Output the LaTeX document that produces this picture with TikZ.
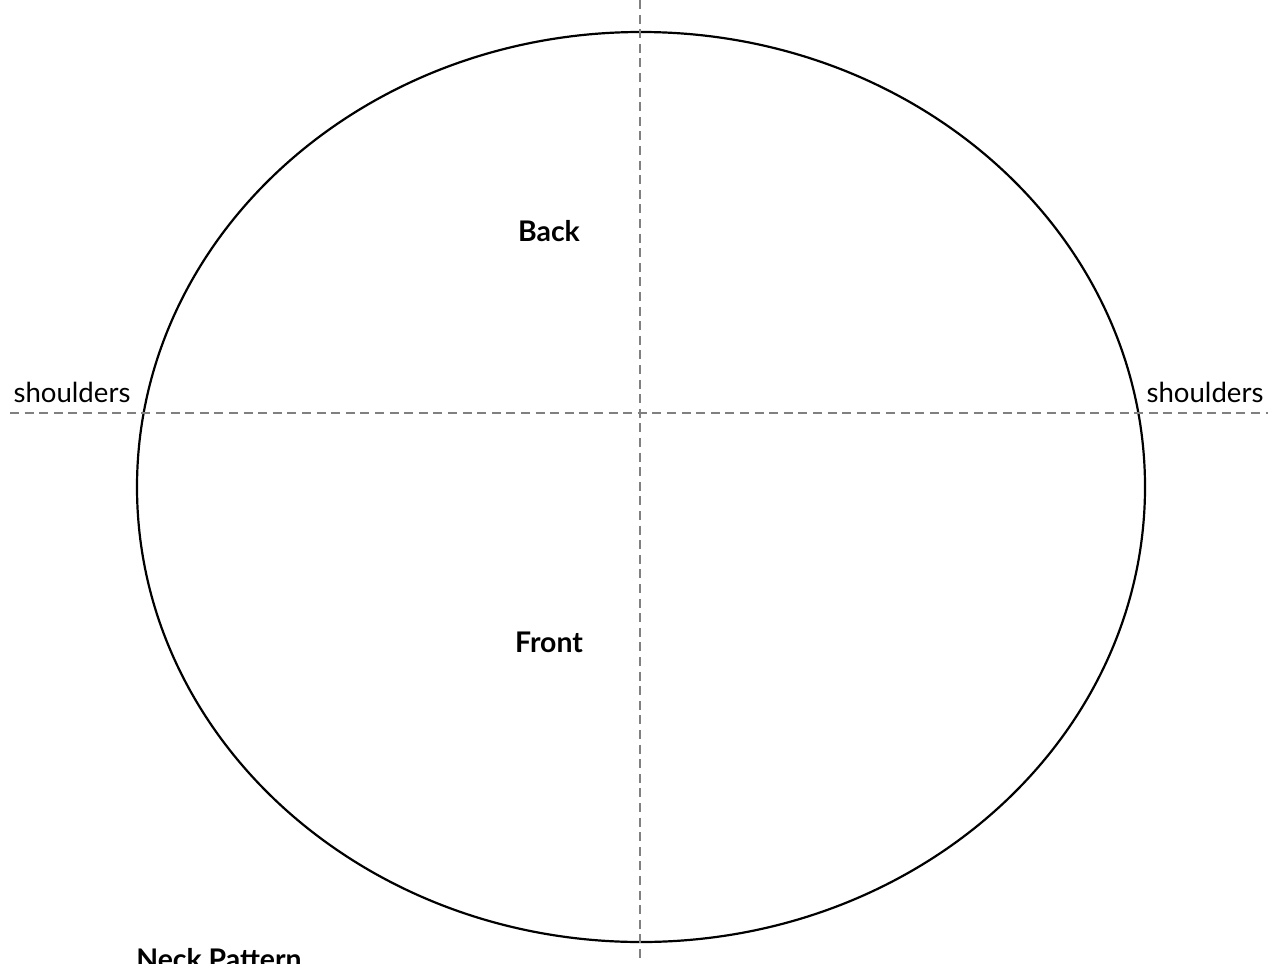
\documentclass[tikz,border=0pt]{standalone}
\usepackage{fontspec}
\setmainfont{Lato}
\usetikzlibrary{positioning, shapes.geometric}

\begin{document}
\begin{tikzpicture}[
      x=0.5pt, y=-0.5pt,
      guide/.style={draw=gray, dash pattern=on 4.5pt off 2.8pt, line width=1.2pt},
      outline/.style={ellipse, draw, line width=1.1pt, minimum width=504pt, minimum height=455pt, inner sep=0pt},
      side/.style={font=\fontsize{13.8}{15}\selectfont, inner sep=0pt},
      part/.style={font=\fontsize{14.2}{16}\selectfont\bfseries, inner sep=0pt}
    ]
      \useasboundingbox (0,0) rectangle (1273,963);
      \node[outline] (neck) at (641,487) {};
      % guide lines
      \coordinate (top) at (640,0);
      \coordinate (bottom) at (640,963);
      \coordinate (left) at (10,413);
      \coordinate (right) at (1268,413);
      \draw[guide] (top) -- (bottom);
      \draw[guide] (left) -- (right);
      % labels
      \node[side] (sl) at (72,392) {shoulders};
      \node[side] (sr) at (1205,392) {shoulders};
      \node[part] (back) at (549,231) {Back};
      \node[part] (front) at (549,642) {Front};
      \node[part] (title) at (219,959) {Neck Pattern};
    \end{tikzpicture}
\end{document}
